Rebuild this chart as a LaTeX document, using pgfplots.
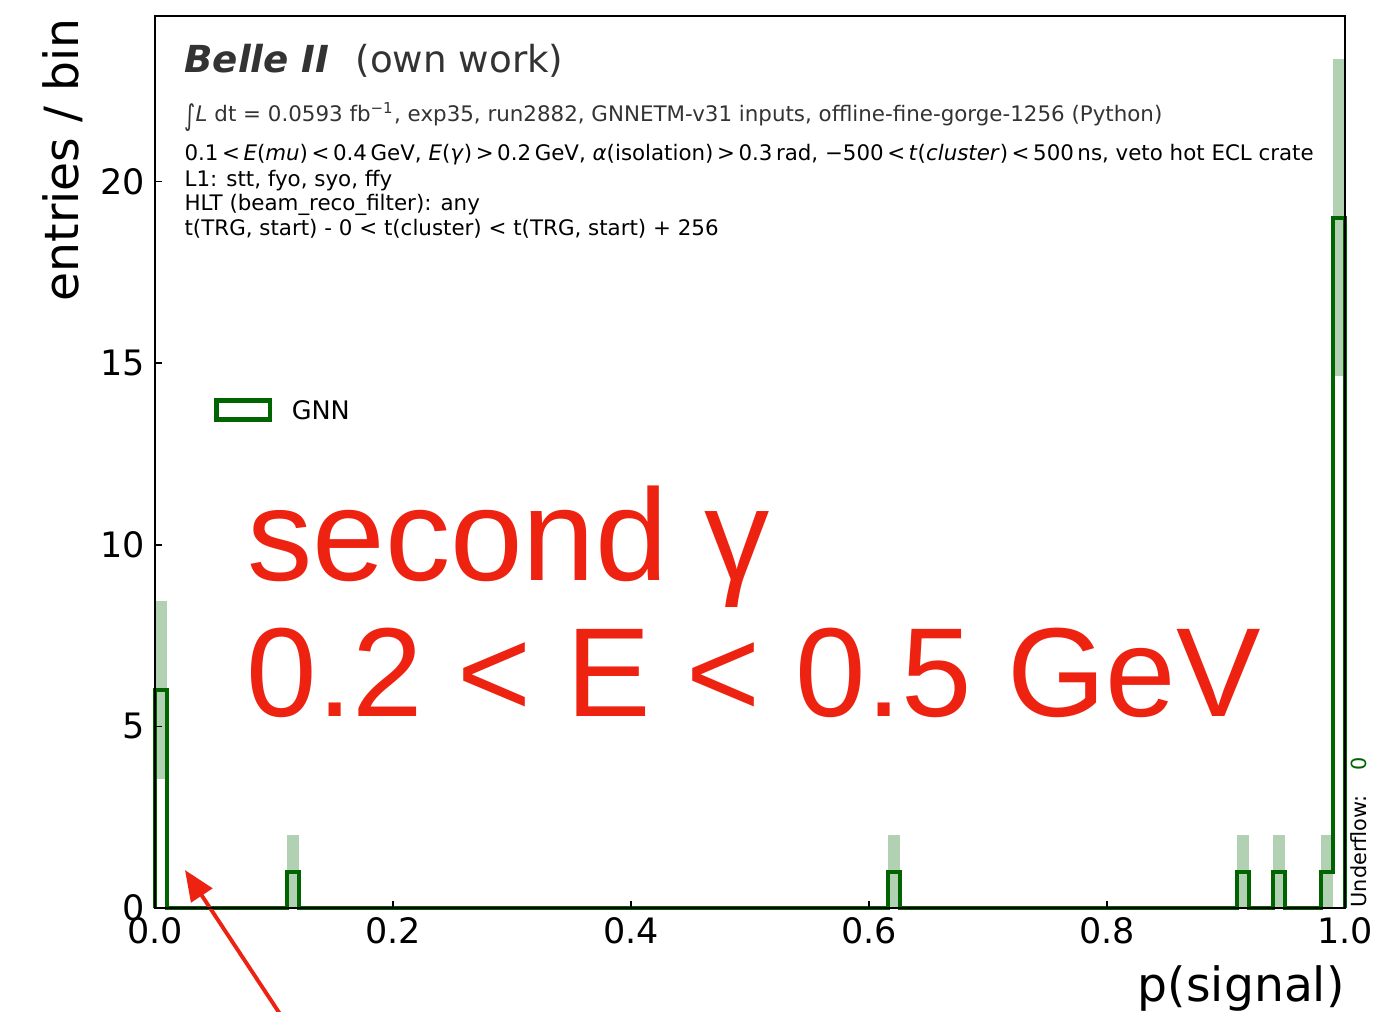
\documentclass[border=0pt]{standalone}
\usepackage{pgfplots}
\pgfplotsset{compat=1.18}
\usepackage{fontspec}
\usepackage{graphicx}
\usetikzlibrary{arrows.meta}
\setmainfont{DejaVu Sans}
\newfontfamily\redfont{Liberation Sans}
\definecolor{dgreen}{RGB}{0,100,0}
\definecolor{annred}{RGB}{238,34,17}
\begin{document}
\begin{tikzpicture}
\useasboundingbox (-55.8pt,-37.08pt) rectangle (438.48pt,326.88pt);
\begin{axis}[
  scale only axis, width=428.4pt, height=321.1pt,
  at={(0pt,0pt)}, anchor=south west,
  xmin=0, xmax=1, ymin=0, ymax=24.55,
  axis on top, clip=false,
  axis line style={line width=0.7pt},
  tick align=inside, xtick pos=lower, ytick pos=left,
  major tick length=2.6pt, tick style={black, line width=0.6pt},
  xtick={0,0.2,0.4,0.6,0.8,1}, xticklabels={0.0,0.2,0.4,0.6,0.8,1.0},
  ytick={0,5,10,15,20}, yticklabels={0,5,10,15,20},
  ticklabel style={font=\fontsize{12.6}{15}\selectfont},
  /pgf/number format/assume math mode=true,
]
% error bands (sqrt N)
\addplot[draw=none, fill=dgreen, fill opacity=0.3] coordinates {(0,3.551) (0.010101,3.551) (0.010101,8.449) (0,8.449)};
\addplot[draw=none, fill=dgreen, fill opacity=0.3] coordinates {(0.111111,0) (0.121212,0) (0.121212,2) (0.111111,2)};
\addplot[draw=none, fill=dgreen, fill opacity=0.3] coordinates {(0.616162,0) (0.626263,0) (0.626263,2) (0.616162,2)};
\addplot[draw=none, fill=dgreen, fill opacity=0.3] coordinates {(0.909091,0) (0.919192,0) (0.919192,2) (0.909091,2)};
\addplot[draw=none, fill=dgreen, fill opacity=0.3] coordinates {(0.939394,0) (0.949495,0) (0.949495,2) (0.939394,2)};
\addplot[draw=none, fill=dgreen, fill opacity=0.3] coordinates {(0.979798,0) (0.989899,0) (0.989899,2) (0.979798,2)};
\addplot[draw=none, fill=dgreen, fill opacity=0.3] coordinates {(0.989899,14.641) (1,14.641) (1,23.359) (0.989899,23.359)};
% histogram outline
\addplot[const plot, draw=dgreen, line width=1.5pt, line join=miter] coordinates {
 (0,0) (0,6) (0.010101,0) (0.111111,1) (0.121212,0) (0.616162,1) (0.626263,0)
 (0.909091,1) (0.919192,0) (0.939394,1) (0.949495,0) (0.979798,1) (0.989899,19) (1,19) (1,0)};
% legend
\draw[dgreen, line width=1.7pt, fill=white] (axis cs:0.0518,13.45) rectangle (axis cs:0.0966,13.975);
\node[anchor=west, inner sep=0pt, font=\fontsize{9.2}{11}\selectfont] at (axis cs:0.1145,13.71) {GNN};
% header texts
\node[anchor=base west, inner sep=0pt, text=black!80, font=\fontsize{13.4}{16}\selectfont] at (axis cs:0.0244,23.0) {\textbf{\textit{Belle II}}\hspace{0.7em}(own work)};
\node[anchor=base west, inner sep=0pt, text=black!80, font=\fontsize{7.7}{9}\selectfont] at (axis cs:0.0244,21.65) {\raisebox{-0.18em}{\scalebox{1}[1.35]{∫}}\textit{L} dt = 0.0593 fb\textsuperscript{−1}, exp35, run2882, GNNETM-v31 inputs, offline-fine-gorge-1256 (Python)};
\node[anchor=base west, inner sep=0pt, font=\fontsize{7.7}{9}\selectfont] at (axis cs:0.0244,20.58) {\resizebox{406.5pt}{\height}{0.1\,<\,\textit{E}(\textit{mu})\,<\,0.4\,GeV, \textit{E}(\textit{γ})\,>\,0.2\,GeV, \textit{α}(isolation)\,>\,0.3\,rad, −500\,<\,\textit{t}(\textit{cluster})\,<\,500\,ns, veto hot ECL crate}};
\node[anchor=base west, inner sep=0pt, font=\fontsize{7.7}{9}\selectfont] at (axis cs:0.0244,19.86) {L1: stt, fyo, syo, ffy};
\node[anchor=base west, inner sep=0pt, font=\fontsize{7.7}{9}\selectfont] at (axis cs:0.0244,19.20) {HLT (beam\_reco\_filter): any};
\node[anchor=base west, inner sep=0pt, font=\fontsize{7.7}{9}\selectfont] at (axis cs:0.0244,18.51) {t(TRG, start) - 0 < t(cluster) < t(TRG, start) + 256};
% red annotation
\node[anchor=base west, inner sep=0pt, text=annred, font=\redfont\fontsize{47}{49}\selectfont] at (axis cs:0.077,9.02) {second γ};
\node[anchor=base west, inner sep=0pt, text=annred, font=\redfont\fontsize{45.6}{49}\selectfont] at (axis cs:0.0765,5.27) {0.2 < E < 0.5 GeV};
\draw[annred, line width=1.4pt, -{Triangle[length=11pt, width=9pt]}] (axis cs:0.1139,-3.356) -- (axis cs:0.0252,1.045);
% axis labels
\node[rotate=90, anchor=base east, inner sep=0pt, font=\fontsize{17}{20}\selectfont] at ([xshift=-27.7pt,yshift=-0.7pt]rel axis cs:0,1) {entries / bin};
\node[anchor=base east, inner sep=0pt, font=\fontsize{17}{20}\selectfont] at ([xshift=0pt,yshift=-33.7pt]rel axis cs:1,0) {p(signal)};
\node[rotate=90, anchor=base west, inner sep=0pt, font=\fontsize{7.5}{9}\selectfont] at ([xshift=7.56pt]rel axis cs:1,0) {Underflow:\hspace{1.2em}\textcolor{dgreen}{0}};
\end{axis}
\end{tikzpicture}
\end{document}
